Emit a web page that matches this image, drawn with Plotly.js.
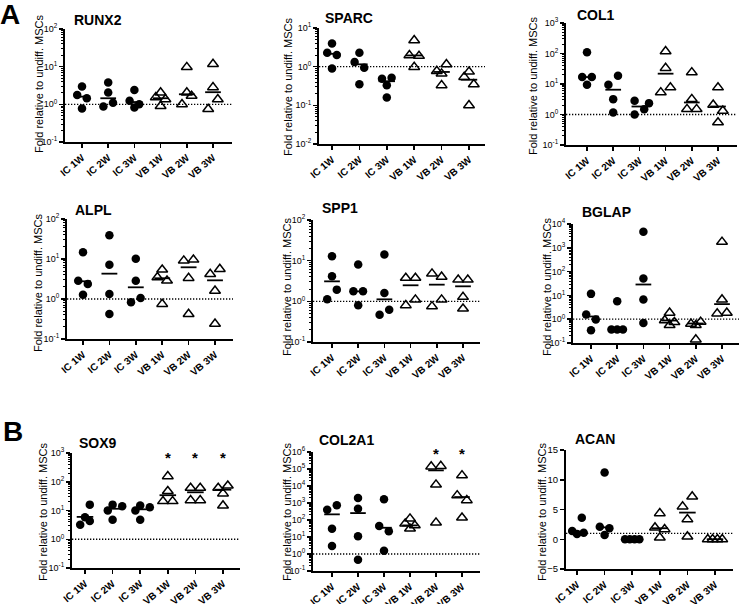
<!DOCTYPE html>
<html><head><meta charset="utf-8">
<script src="https://cdn.plot.ly/plotly-3.0.1.min.js"></script>
<style>html,body{margin:0;padding:0;background:#fff}#chart{width:740px;height:604px}</style>
</head><body><div id="chart"></div>
<script>
// ---------------- DATA ----------------
const CATEGORIES = ['IC 1W','IC 2W','IC 3W','VB 1W','VB 2W','VB 3W'];
const Y_TITLE = 'Fold relative to undiff. MSCs';
const REF_LEVEL = 1;

const RUNX2 = [[2.96,1.77,1.45,0.78],[3.78,2.05,1.10,0.87],[2.41,1.25,1.00,0.82],[2.05,1.54,1.36,0.90],[9.7,2.05,1.67,1.00],[11.7,2.84,1.36,0.75]];
const RUNX2_MEAN = [1.60,1.45,1.15,1.45,1.85,2.10];

const SPARC = [[4.0,2.3,2.0,0.90],[2.3,1.32,0.94,0.35],[0.52,0.49,0.33,0.16],[4.8,1.97,1.89,0.98],[1.15,0.77,0.66,0.33],[0.74,0.54,0.35,0.10]];
const SPARC_MEAN = [2.15,1.15,0.42,1.95,0.73,0.46];

const COL1 = [[109,16.9,16.9,9.4],[18.7,9.4,3.19,1.16],[2.81,2.36,1.5,1.0],[118,33.4,7.7,5.3],[24,3.19,1.5,1.5],[7.7,2.08,1.32,0.55]];
const COL1_MEAN = [16.9,6.5,1.83,21.8,2.48,1.83];

const ALPL = [[14.7,2.87,2.37,1.28],[39,7.2,1.33,0.42],[10.2,2.87,1.06,0.83],[5.4,3.48,2.87,0.75],[9.6,9.1,3.35,0.42],[5.6,4.2,1.6,0.24]];
const ALPL_MEAN = [2.77,4.3,1.96,3.3,6.2,2.93];

const SPP1 = [[12.9,4.13,1.94,1.12],[8.0,1.76,1.76,0.80],[14.1,1.6,0.62,0.47],[3.76,3.76,1.1,0.8],[4.8,4.0,1.1,0.75],[3.4,3.4,1.28,0.66]];
const SPP1_MEAN = [3.1,1.76,1.12,2.48,2.57,2.34];

const BGLAP = [[11.6,1.57,0.97,0.345],[5.7,0.37,0.37,0.37],[4680,51,6.7,0.70],[1.85,0.90,0.75,0.56],[0.77,0.64,0.56,0.14],[1770,6.7,1.85,1.73]];
const BGLAP_MEAN = [1.30,0.37,28.7,0.88,0.66,4.3];

const SOX9 = [[16,5.8,4.3,3.2],[16,14,10,4.8],[15,13,10,4.8],[155,47,21,21],[61,61,22.7,22.7],[73,61,39,14.8]];
const SOX9_MEAN = [6.0,11.5,11.0,34,43,53];
const SOX9_SIG = ['','','','*','*','*'];

const COL2A1 = [[730,405,31,2.95],[1960,465,11,0.46],[1650,44,21.6,1.57],[120,61,48,31],[150000,140000,12000,70],[42000,2800,1450,137]];
const COL2A1_MEAN = [215,255,35,48,83000,2240];
const COL2A1_SIG = ['','','','','*','*'];

const ACAN = [[3.6,1.4,1.1,0.9],[11.2,2.1,1.85,0.73],[0,0,0,0],[4.37,1.96,1.68,0.28],[7.17,5.5,3.36,0.45],[0,0,0,0]];
const ACAN_MEAN = [1.29,2.0,0,1.85,4.48,0];

// ---------------- LAYOUT (jitter offsets, in marker-steps) ----------------
const JIT = {
  RUNX2:[[0,-1,1,0],[0,0,1,-1],[0,-1,1,0],[0,-1,1,0],[0,0,1,-1],[0,0,1,-1]],
  SPARC:[[0,-1,1,0],[0,-1,1,0],[1,-1,0,0],[0,-1,1,0],[1,-1,0,0],[0,-1,1,0]],
  COL1:[[0,-1,1,0],[1,-1,0,0],[-1,2,1,-1],[0,0,1,-1],[0,0,-1,1],[0,-1,1,0]],
  ALPL:[[0,-1,1,0],[0,0,0,0],[0,0,1,-1],[0,-1,1,0],[1,-1,0,0],[1,-1,0,0]],
  SPP1:[[0,0,1,-1],[0,-1,1,0],[0,0,1,-1],[-1,1,1,-1],[-1,1,1,-1],[-1,1,0,0]],
  BGLAP:[[0,-1,1,0],[0,-1.2,0,1.2],[0,0,0,0],[0,-1,1,0],[1,-1,0,0],[0,0,1,-1]],
  SOX9:[[1,0,1,-1],[0,2,-1,0],[0,2,-1,0],[0,0,-1,1],[-1,1,-1,1],[1,-1,0,0]],
  COL2A1:[[1,-1,0,0],[0,0,0,0],[0,-1,1,0],[0,-1,1,0],[1,-1,0,0],[0,-1,1,0]],
  ACAN:[[1,-1,1.4,0],[0,-1,1,0],[-1.5,-0.5,0.5,1.5],[0,-1,1,0],[1,-1,0,0],[-1.5,-0.5,0.5,1.5]]
};

// panel pixel boxes: [axisLeft, firstCenter, lastCenter, axisRight, top, bottom]
const PANELS = [
  {name:'RUNX2', d:RUNX2, m:RUNX2_MEAN, log:true, yr:[-1,2], box:[65,82,213,232,29,142], yt:[39,84], tt:[72,20]},
  {name:'SPARC', d:SPARC, m:SPARC_MEAN, log:true, yr:[-2,1], box:[319,332,469,485,28,144], yt:[288,87], tt:[323,18]},
  {name:'COL1', d:COL1, m:COL1_MEAN, log:true, yr:[-1,3], box:[566,587,718,737,23,145], yt:[533,86], tt:[575,15]},
  {name:'ALPL', d:ALPL, m:ALPL_MEAN, log:true, yr:[-1,2], box:[67,83,215,233,219,339], yt:[38,283], tt:[73,210]},
  {name:'SPP1', d:SPP1, m:SPP1_MEAN, log:true, yr:[-1,2], box:[313,332,463,480,220,342], yt:[287,287], tt:[320,208]},
  {name:'BGLAP', d:BGLAP, m:BGLAP_MEAN, log:true, yr:[-1,4], box:[573,591,722,739,224,343], yt:[547,287], tt:[580,212]},
  {name:'SOX9', d:SOX9, m:SOX9_MEAN, log:true, yr:[-1,3], box:[72,85,223,240,453,568], yt:[43,512], tt:[77,443], sig:SOX9_SIG, sigY:2.86},
  {name:'COL2A1', d:COL2A1, m:COL2A1_MEAN, log:true, yr:[-1,6], box:[313,332,462,480,452,571], yt:[287,512], tt:[317,440], sig:COL2A1_SIG, sigY:5.9},
  {name:'ACAN', d:ACAN, m:ACAN_MEAN, log:false, yr:[-5,15], box:[566,577,715,733,450,569], yt:[542,512], tt:[573,439]}
];

const W = 740, H = 604;
const FONT = 'Arial, "Liberation Sans", sans-serif';
const JIT_PX = 4.8;

const traces = [];
const layout = {
  width: W, height: H, margin:{l:0,r:0,t:0,b:0}, showlegend:false,
  paper_bgcolor:'#fff', plot_bgcolor:'#fff', font:{family:FONT, color:'#000'},
  annotations:[]
};

PANELS.forEach((p, idx) => {
  const n = idx + 1;
  const xa = 'x' + (n===1?'':n), ya = 'y' + (n===1?'':n);
  const xk = 'xaxis' + (n===1?'':n), yk = 'yaxis' + (n===1?'':n);
  const [L, c0, c5, R, T, B] = p.box;
  const s = (c5 - c0) / 5;
  const jit = JIT[p.name];
  const jstep = JIT_PX / s;
  const xr = [(L-c0)/s, 5 + (R-c5)/s];

  // dotted reference line at fold = 1
  traces.push({type:'scatter', mode:'lines', x:xr, y:[REF_LEVEL, REF_LEVEL], xaxis:xa, yaxis:ya,
    hoverinfo:'skip', cliponaxis:false, line:{color:'#000', width:1.3, dash:'1.3px,1.7px'}});

  // points
  [[0,1,2],[3,4,5]].forEach((groups, gi) => {
    const xs = [], ys = [];
    groups.forEach(g => {
      p.d[g].forEach((v, k) => { xs.push(g + jit[g][k]*jstep); ys.push(v); });
    });
    traces.push({
      type:'scatter', mode:'markers', x:xs, y:ys, xaxis:xa, yaxis:ya, hoverinfo:'skip', cliponaxis:false,
      marker: gi===0 ? {symbol:'circle', size:8.5, color:'#000'} :
                       {symbol:'triangle-up-open', size:9.5, color:'#000', line:{width:1.5, color:'#000'}}
    });
  });
  // mean lines
  const mx = [], my = [];
  p.m.forEach((v, g) => { mx.push(g-0.3, g+0.3, null); my.push(v, v, null); });
  traces.push({type:'scatter', mode:'lines', x:mx, y:my, xaxis:xa, yaxis:ya, hoverinfo:'skip',
    line:{color:'#000', width:1.8}});

  layout[xk] = {
    domain:[L/W, R/W], anchor:ya, range:xr,
    tickmode:'array', tickvals:CATEGORIES.map((c,i)=>i), ticktext:CATEGORIES,
    tickangle:-40, tickfont:{size:10, family:FONT, weight:'bold', color:'#000'},
    showline:true, linewidth:2, linecolor:'#000', ticks:'outside', ticklen:4, tickwidth:1.5, tickcolor:'#000',
    showgrid:false, zeroline:false, fixedrange:true
  };
  const yax = {
    domain:[1 - B/H, 1 - T/H], anchor:xa,
    showline:true, linewidth:2, linecolor:'#000', ticks:'outside', ticklen:4, tickwidth:1.5, tickcolor:'#000',
    showgrid:false, zeroline:false, fixedrange:true,
    tickfont:{size:9, family:FONT, color:'#000'}
  };
  if (p.log) {
    const tv = [], tt = [], mv = [];
    for (let e = p.yr[0]; e <= p.yr[1]; e++) {
      tv.push(Math.pow(10, e));
      tt.push('10<sup>' + (e < 0 ? '-' + (-e) : e) + '</sup>');
      if (e < p.yr[1]) for (let j = 2; j <= 9; j++) mv.push(j * Math.pow(10, e));
    }
    Object.assign(yax, {type:'log', range:p.yr, tickmode:'array', tickvals:tv, ticktext:tt,
      minor:{tickmode:'array', tickvals:mv, ticks:'outside', ticklen:2, tickwidth:1, tickcolor:'#000', showgrid:false}});
  } else {
    Object.assign(yax, {type:'linear', range:p.yr, dtick:5, tick0:0, tickfont:{size:9.5, family:FONT, color:'#000'}});
  }
  layout[yk] = yax;

  // panel title
  layout.annotations.push({xref:'paper', yref:'paper', x:p.tt[0]/W, y:1 - p.tt[1]/H, xanchor:'left', yanchor:'middle',
    text:p.name, showarrow:false, font:{size:14, family:FONT, weight:'bold', color:'#000'}});
  // y title
  layout.annotations.push({xref:'paper', yref:'paper', x:p.yt[0]/W, y:1 - p.yt[1]/H, xanchor:'center', yanchor:'middle',
    text:Y_TITLE, textangle:-90, showarrow:false, font:{size:11, family:FONT, color:'#000'}});
  // significance
  if (p.sig) p.sig.forEach((t, g) => {
    if (t) layout.annotations.push({xref:xa, yref:ya, x:g, y:p.sigY, text:t, showarrow:false,
      font:{size:15, family:FONT, weight:'bold', color:'#000'}, yanchor:'middle'});
  });
});

// section letters
layout.annotations.push({xref:'paper', yref:'paper', x:10/W, y:1-14/H, text:'A', showarrow:false,
  font:{size:28, family:FONT, weight:'bold', color:'#000'}, xanchor:'center', yanchor:'middle'});
layout.annotations.push({xref:'paper', yref:'paper', x:13/W, y:1-431/H, text:'B', showarrow:false,
  font:{size:28, family:FONT, weight:'bold', color:'#000'}, xanchor:'center', yanchor:'middle'});

Plotly.newPlot('chart', traces, layout, {displayModeBar:false, staticPlot:true});
</script>
</body></html>
